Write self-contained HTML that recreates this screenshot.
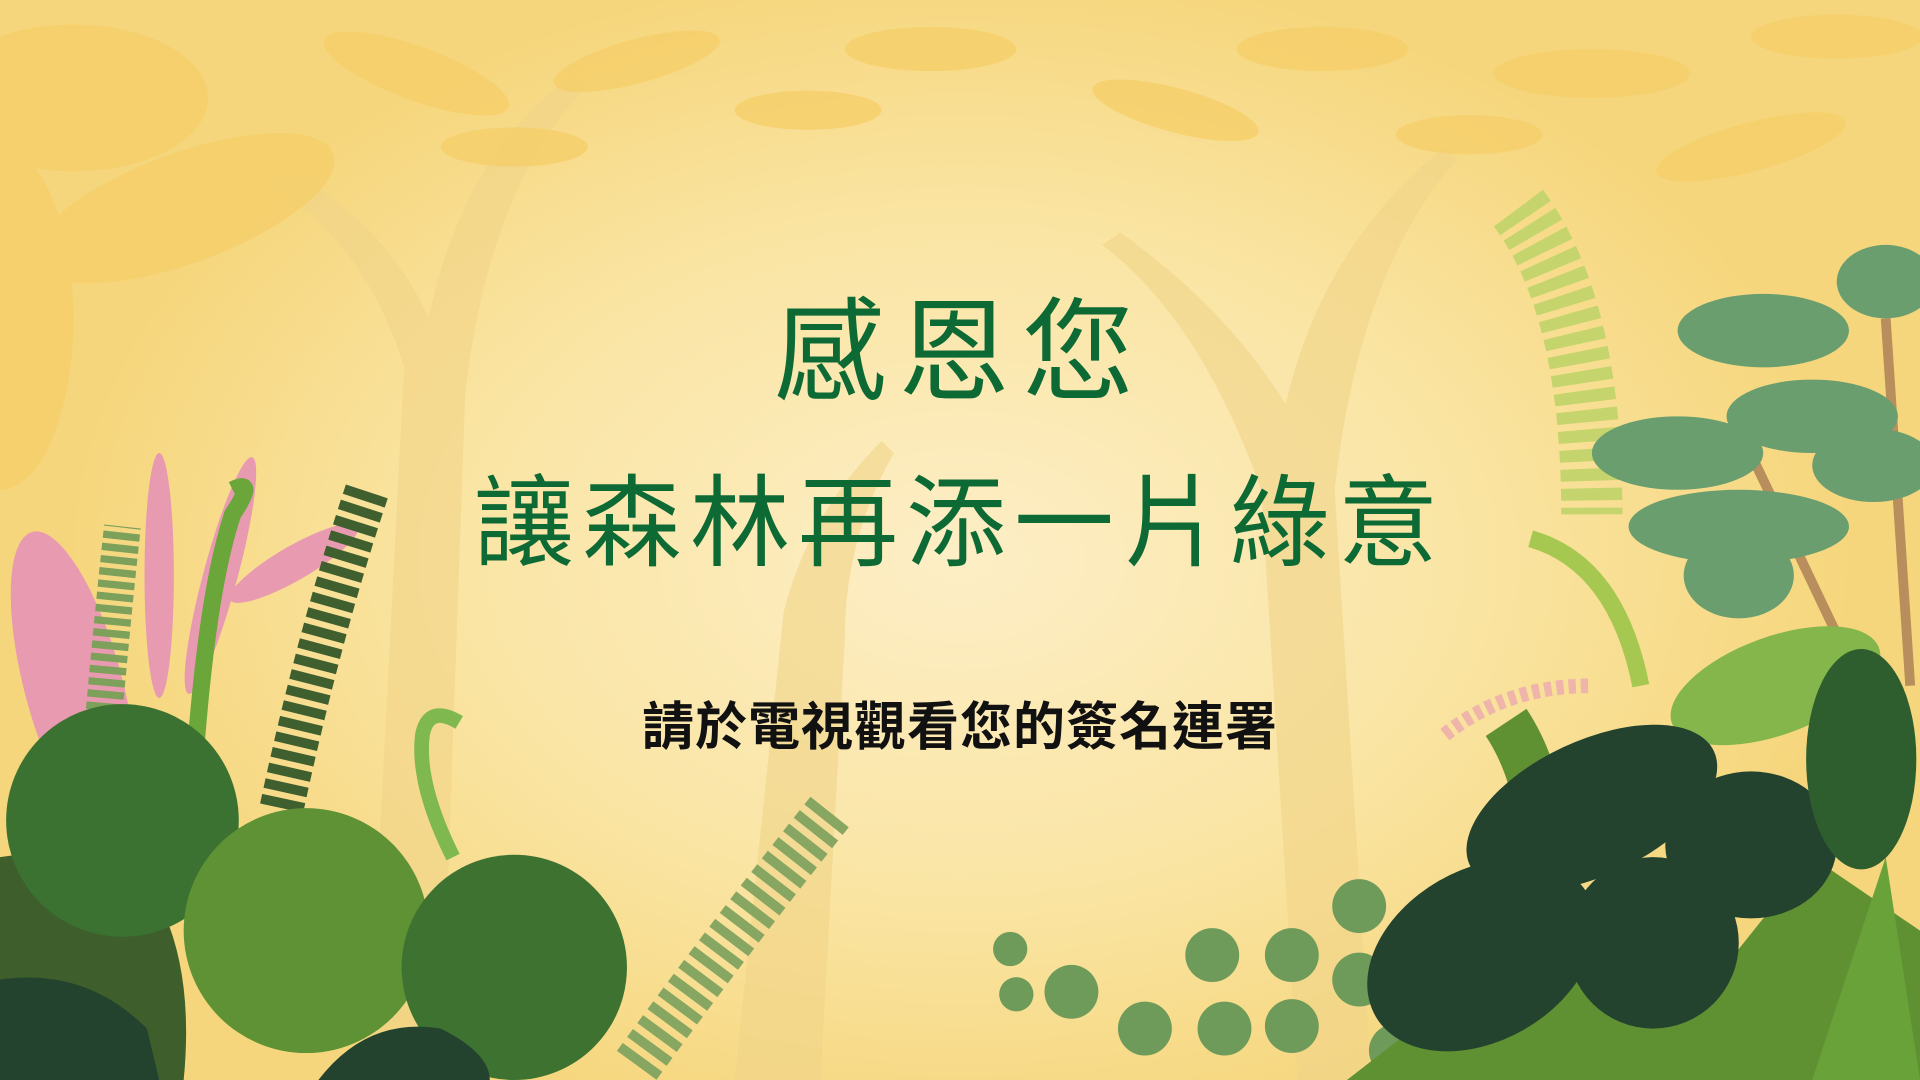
<!DOCTYPE html>
<html><head><meta charset="utf-8">
<style>
html,body{margin:0;padding:0;width:1920px;height:1080px;overflow:hidden;}
body{position:relative;
background:radial-gradient(ellipse 900px 600px at 960px 560px,#fdeec6 0%,#fae5a4 55%,#f6d67c 100%);
font-family:"Liberation Sans","Noto Sans CJK TC",sans-serif;}
svg{position:absolute;left:0;top:0;overflow:hidden;display:block;}
.t{position:absolute;left:0;width:1920px;text-align:center;white-space:nowrap;}
</style></head><body>
<svg width="1920" height="1080" viewBox="0 0 1568 882" preserveAspectRatio="none">
 <g fill="#f0d488" opacity="0.6">
  <path d="M300 882 L330 300 Q300 200 220 150 L240 140 Q320 190 350 260 Q380 120 470 60 L480 70 Q400 150 380 320 L360 882Z"/>
  <path d="M1060 882 L1030 400 Q980 260 900 200 L915 190 Q1000 250 1050 330 Q1080 200 1180 120 L1190 130 Q1110 220 1090 400 L1120 882Z"/>
  <path d="M600 882 L640 500 Q660 420 720 360 L730 370 Q690 440 690 520 L670 882Z"/>
 </g>
 <g fill="#f5cf6a" opacity="0.8">
  <ellipse cx="60" cy="80" rx="110" ry="60"/><ellipse cx="150" cy="170" rx="130" ry="45" transform="rotate(-20 150 170)"/>
  <ellipse cx="340" cy="60" rx="80" ry="22" transform="rotate(20 340 60)"/><ellipse cx="420" cy="120" rx="60" ry="16"/>
  <ellipse cx="520" cy="50" rx="70" ry="18" transform="rotate(-15 520 50)"/><ellipse cx="660" cy="90" rx="60" ry="16"/>
  <ellipse cx="760" cy="40" rx="70" ry="18"/><ellipse cx="960" cy="90" rx="70" ry="18" transform="rotate(15 960 90)"/>
  <ellipse cx="1080" cy="40" rx="70" ry="18"/><ellipse cx="1200" cy="110" rx="60" ry="16"/>
  <ellipse cx="1300" cy="60" rx="80" ry="20"/><ellipse cx="1430" cy="120" rx="80" ry="20" transform="rotate(-15 1430 120)"/>
  <ellipse cx="1500" cy="30" rx="70" ry="18"/><ellipse cx="0" cy="260" rx="60" ry="140"/>
 </g>
 <g fill="#e89ab0">
  <ellipse cx="60" cy="560" rx="40" ry="130" transform="rotate(-15 60 560)"/>
  <ellipse cx="130" cy="470" rx="12" ry="100"/><ellipse cx="180" cy="470" rx="14" ry="100" transform="rotate(15 180 470)"/>
  <ellipse cx="240" cy="460" rx="14" ry="60" transform="rotate(60 240 460)"/>
 </g>
 <g>
  <path d="M80 640 Q90 520 100 430" stroke="#7da05a" stroke-width="30" stroke-dasharray="6 4" fill="none"/>
  <path d="M230 660 Q260 520 300 400" stroke="#3f5f2e" stroke-width="36" stroke-dasharray="8 5" fill="none"/>
  <path d="M160 610 Q170 480 190 420 Q210 390 190 400" stroke="#6aa63a" stroke-width="14" fill="none"/>
  <path d="M370 700 Q340 640 345 600 Q350 575 375 590" stroke="#80b850" stroke-width="12" fill="none"/>
  <path d="M520 870 Q600 760 680 660" stroke="#86a662" stroke-width="40" stroke-dasharray="8 6" fill="none"/>
 </g>
 <g>
  <path d="M0 700 Q60 690 120 720 Q160 780 150 882 L0 882Z" fill="#3e5f2c"/>
  <path d="M0 800 Q70 790 120 840 L130 882 L0 882Z" fill="#24432f"/>
  <circle cx="100" cy="670" r="95" fill="#3b7231"/>
  <circle cx="250" cy="760" r="100" fill="#5f9235"/>
  <circle cx="420" cy="790" r="92" fill="#3d7231"/>
  <path d="M260 882 Q300 830 360 840 Q400 860 400 882Z" fill="#24432f"/>
 </g>
 <g fill="#6e9a5a">
  <circle cx="825" cy="775" r="14"/><circle cx="830" cy="812" r="14"/><circle cx="875" cy="810" r="22"/>
  <circle cx="935" cy="840" r="22"/><circle cx="990" cy="780" r="22"/><circle cx="1000" cy="840" r="22"/>
  <circle cx="1055" cy="780" r="22"/><circle cx="1055" cy="838" r="22"/><circle cx="1110" cy="740" r="22"/>
  <circle cx="1110" cy="800" r="22"/><circle cx="1140" cy="858" r="22"/>
 </g>
 <g>
  <path d="M1240 170 Q1300 250 1300 420" stroke="#c5d46c" stroke-width="50" stroke-dasharray="10 6" fill="none"/>
  <path d="M1250 440 Q1320 460 1340 560" stroke="#a6c850" stroke-width="14" fill="none"/>
  <path d="M1180 600 Q1230 560 1300 560" stroke="#efb5aa" stroke-width="12" stroke-dasharray="6 4" fill="none"/>
  <path d="M1420 350 L1520 560 M1540 260 L1560 560" stroke="#b88e5c" stroke-width="8" fill="none"/>
  <g fill="#6a9e6e"><ellipse cx="1370" cy="370" rx="70" ry="30"/><ellipse cx="1440" cy="270" rx="70" ry="30"/>
  <ellipse cx="1480" cy="340" rx="70" ry="30"/><ellipse cx="1420" cy="430" rx="90" ry="30"/>
  <ellipse cx="1420" cy="470" rx="45" ry="35"/><ellipse cx="1540" cy="230" rx="40" ry="30"/><ellipse cx="1530" cy="380" rx="50" ry="30"/></g>
  <path d="M1230 590 Q1270 650 1260 760" stroke="#5f9132" stroke-width="40" fill="none"/>
  <ellipse cx="1450" cy="560" rx="90" ry="40" fill="#84b64c" transform="rotate(-20 1450 560)"/>
  <path d="M1100 882 L1568 882 L1568 760 L1480 700 L1400 800 L1300 760 L1180 820Z" fill="#5f9132"/>
  <ellipse cx="1210" cy="780" rx="100" ry="70" fill="#24432f" transform="rotate(-30 1210 780)"/>
  <ellipse cx="1300" cy="660" rx="110" ry="55" fill="#24432f" transform="rotate(-25 1300 660)"/>
  <ellipse cx="1350" cy="770" rx="70" ry="70" fill="#24432f"/>
  <ellipse cx="1430" cy="690" rx="70" ry="60" fill="#24432f"/>
  <ellipse cx="1520" cy="620" rx="45" ry="90" fill="#2e5e2e"/>
  <path d="M1480 882 L1540 700 L1568 882Z" fill="#6aa23a"/>
 </g>
</svg>
<div class="t" style="top:288px;font-size:112px;line-height:130px;color:#0e6a35;letter-spacing:12px;">感恩您</div>
<div class="t" style="top:462px;font-size:100px;line-height:124px;color:#0e6a35;letter-spacing:8px;">讓森林再添一片綠意</div>
<div class="t" style="top:695px;font-size:52px;line-height:66px;color:#111;font-weight:bold;letter-spacing:1px;">請於電視觀看您的簽名連署</div>
</body></html>
